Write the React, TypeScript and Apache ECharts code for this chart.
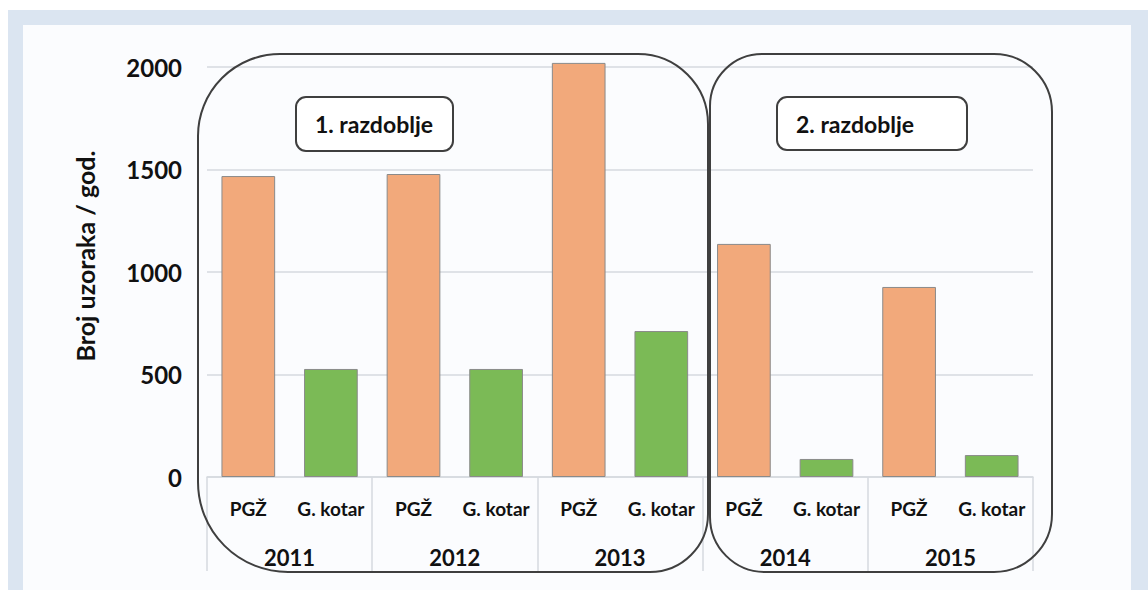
import React, { useEffect, useRef } from "react";
import * as echarts from "echarts";

const years = ["2011", "2012", "2013", "2014", "2015"];
const groupLabels = ["PGŽ", "G. kotar"];
const pgzValues = [1468, 1478, 2020, 1137, 927];
const kotarValues = [527, 527, 712, 88, 107];
const yTicks = [0, 500, 1000, 1500, 2000];
const yTitle = "Broj uzoraka / god.";
const periodLabels = ["1. razdoblje", "2. razdoblje"];

const FONT = "Lato, 'Noto Sans', sans-serif";

export default function App() {
  const ref = useRef<HTMLDivElement>(null);
  useEffect(() => {
    document.body.style.margin = "0";
    const chart = echarts.init(ref.current!, null, { renderer: "svg" });
    const cats: string[] = [];
    const pgzData: (number | null)[] = [];
    const kotarData: (number | null)[] = [];
    years.forEach((_, i) => {
      cats.push(groupLabels[0], groupLabels[1]);
      pgzData.push(pgzValues[i], null);
      kotarData.push(null, kotarValues[i]);
    });
    chart.setOption({
      animation: false,
      backgroundColor: "#ffffff",
      grid: { left: 207, right: 115, top: 67, bottom: 113 },
      xAxis: [
        {
          type: "category",
          data: cats,
          position: "bottom",
          axisLine: { show: true, lineStyle: { color: "#d6dadf", width: 1.5 } },
          axisTick: { show: false },
          axisLabel: {
            interval: 0,
            margin: 22,
            color: "#111",
            fontFamily: FONT,
            fontWeight: "bold",
            fontSize: 19,
          },
        },
        {
          type: "category",
          data: years,
          position: "bottom",
          axisLine: { show: false },
          axisTick: {
            show: true,
            interval: 0,
            length: 94,
            lineStyle: { color: "#d6dadf", width: 1.5 },
          },
          axisLabel: {
            interval: 0,
            margin: 69,
            color: "#111",
            fontFamily: FONT,
            fontWeight: "bold",
            fontSize: 22,
          },
        },
      ],
      yAxis: {
        type: "value",
        min: yTicks[0],
        max: yTicks[yTicks.length - 1],
        interval: 500,
        axisLine: { show: false },
        axisTick: { show: false },
        splitLine: { lineStyle: { color: "#d6dadf", width: 1.5 } },
        axisLabel: {
          margin: 25,
          color: "#111",
          fontFamily: FONT,
          fontWeight: "bold",
          fontSize: 24,
          formatter: (v: number) => String(v),
        },
      },
      series: [
        {
          name: groupLabels[0],
          type: "bar",
          stack: "s",
          data: pgzData,
          barCategoryGap: "35%",
          clip: false,
          itemStyle: { color: "#F2A97B", borderColor: "#8a8a8a", borderWidth: 1 },
        },
        {
          name: groupLabels[1],
          type: "bar",
          stack: "s",
          data: kotarData,
          barCategoryGap: "35%",
          clip: false,
          itemStyle: { color: "#7BBA56", borderColor: "#8a8a8a", borderWidth: 1 },
        },
      ],
      graphic: [
        {
          type: "rect",
          z: -10,
          silent: true,
          shape: { x: 8, y: 10, width: 1140, height: 580 },
          style: { fill: "#dbe5f1" },
        },
        {
          type: "rect",
          z: -9,
          silent: true,
          shape: { x: 23, y: 25, width: 1108, height: 565 },
          style: { fill: "#fbfcfe" },
        },
        {
          type: "text",
          z: 101,
          silent: true,
          x: 85,
          y: 256,
          rotation: Math.PI / 2,
          style: {
            text: yTitle,
            fill: "#111",
            font: `bold 25px ${FONT}`,
            align: "center",
            verticalAlign: "middle",
          },
        },
        {
          type: "rect",
          z: 100,
          silent: true,
          shape: { x: 198, y: 54, width: 510, height: 518, r: [82, 70, 58, 90] },
          style: { fill: "none", stroke: "#3f3f3f", lineWidth: 2 },
        },
        {
          type: "rect",
          z: 100,
          silent: true,
          shape: { x: 710, y: 54, width: 342, height: 518, r: [52, 58, 58, 55] },
          style: { fill: "none", stroke: "#3f3f3f", lineWidth: 2 },
        },
        {
          type: "rect",
          z: 100,
          silent: true,
          shape: { x: 296, y: 97, width: 157, height: 54, r: 10 },
          style: { fill: "#ffffff", stroke: "#3f3f3f", lineWidth: 2 },
        },
        {
          type: "text",
          z: 101,
          silent: true,
          x: 374,
          y: 124,
          style: {
            text: periodLabels[0],
            fill: "#111",
            font: `bold 23px ${FONT}`,
            align: "center",
            verticalAlign: "middle",
          },
        },
        {
          type: "rect",
          z: 100,
          silent: true,
          shape: { x: 777, y: 97, width: 190, height: 53, r: 10 },
          style: { fill: "#ffffff", stroke: "#3f3f3f", lineWidth: 2 },
        },
        {
          type: "text",
          z: 101,
          silent: true,
          x: 796,
          y: 124,
          style: {
            text: periodLabels[1],
            fill: "#111",
            font: `bold 23px ${FONT}`,
            align: "left",
            verticalAlign: "middle",
          },
        },
      ],
    });
    return () => chart.dispose();
  }, []);
  return <div ref={ref} style={{ width: 1148, height: 590 }} />;
}
